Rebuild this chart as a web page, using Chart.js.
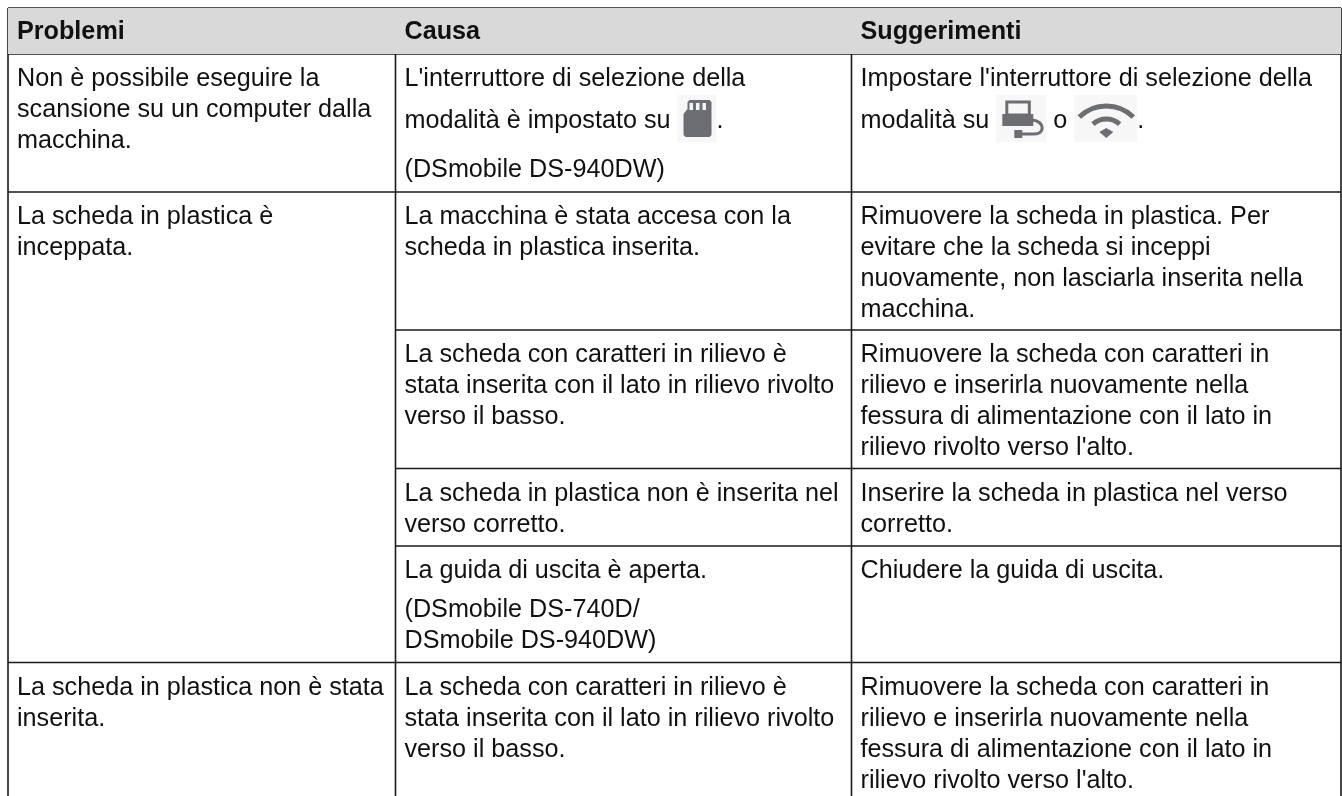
<!DOCTYPE html>
<html lang="it"><head><meta charset="utf-8">
<style>html,body{margin:0;padding:0;background:#fff}canvas{display:block}</style>
<script src="https://cdn.jsdelivr.net/npm/chart.js@4"></script></head>
<body><canvas id="c" width="1342" height="796"></canvas>
<script>
const headers=["Problemi","Causa","Suggerimenti"];
const problems=[
 [["Non è possibile eseguire la","scansione su un computer dalla","macchina."]],
 [["La scheda in plastica è","inceppata."]],
 [],[],[],
 [["La scheda in plastica non è stata","inserita."]]];
const causes=[
 [["L'interruttore di selezione della","modalità è impostato su {sd}."],["(DSmobile DS-940DW)"]],
 [["La macchina è stata accesa con la","scheda in plastica inserita."]],
 [["La scheda con caratteri in rilievo è","stata inserita con il lato in rilievo rivolto","verso il basso."]],
 [["La scheda in plastica non è inserita nel","verso corretto."]],
 [["La guida di uscita è aperta."],["(DSmobile DS-740D/","DSmobile DS-940DW)"]],
 [["La scheda con caratteri in rilievo è","stata inserita con il lato in rilievo rivolto","verso il basso."]]];
const tips=[
 [["Impostare l'interruttore di selezione della","modalità su {pc} o {wifi}."]],
 [["Rimuovere la scheda in plastica. Per","evitare che la scheda si inceppi","nuovamente, non lasciarla inserita nella","macchina."]],
 [["Rimuovere la scheda con caratteri in","rilievo e inserirla nuovamente nella","fessura di alimentazione con il lato in","rilievo rivolto verso l'alto."]],
 [["Inserire la scheda in plastica nel verso","corretto."]],
 [["Chiudere la guida di uscita."]],
 [["Rimuovere la scheda con caratteri in","rilievo e inserirla nuovamente nella","fessura di alimentazione con il lato in","rilievo rivolto verso l'alto."]]];
const columnEdges=[8,395.5,851.5,1341];
const rowEdges=[8,54,192,330,468.5,546,662.5,796];

const LINE='#1a1a1a',TXT='#111',ICON='#6d6e71',ICONBG='#f7f7f7',FONT='"Liberation Sans"';
const SIZE=25.2, LH=31, PGAP=7.5, PADX=9, BASE=32, HEADBASE=31;
const ICONW={sd:39,pc:50,wifi:63};

function seg(x0,y0,x1,y1){return{type:'line',data:[{x:x0,y:y0},{x:x1,y:y1}],borderColor:LINE,borderWidth:1.6,pointRadius:0,fill:false};}
const ds=[];
ds.push({type:'line',data:[{x:columnEdges[0],y:rowEdges[0]},{x:columnEdges[3],y:rowEdges[0]}],borderWidth:0,pointRadius:0,backgroundColor:'#d9d9d9',fill:{value:rowEdges[1]}});
const bottom=rowEdges[rowEdges.length-1];
columnEdges.forEach(x=>ds.push(seg(x,rowEdges[0],x,bottom)));
rowEdges.slice(0,-1).forEach((y,i)=>{
  const merged=i>=3&&i<=5;
  ds.push(seg(merged?columnEdges[1]:columnEdges[0],y,columnEdges[3],y));
});

function drawIcon(ctx,name,x,top){
  const w=ICONW[name],h=47;
  ctx.fillStyle=ICONBG;ctx.fillRect(x,top,w,h);
  ctx.fillStyle=ICON;ctx.strokeStyle=ICON;
  if(name==='sd'){
    const l=x+6,t=top+5,r=x+34,b=top+42;
    ctx.beginPath();ctx.moveTo(l+5,t+1);ctx.lineTo(l+6,t);ctx.lineTo(r-2,t);ctx.lineTo(r,t+2);ctx.lineTo(r,b-2);ctx.lineTo(r-2,b);ctx.lineTo(l+2,b);ctx.lineTo(l,b-2);ctx.lineTo(l,t+14);ctx.lineTo(l+4,t+9);ctx.lineTo(l+4,t+2);ctx.closePath();ctx.fill();
    ctx.fillStyle='#f4f4f4';[6,12.5,19].forEach(d=>ctx.fillRect(l+d,t+3,3.5,7));
  }else if(name==='pc'){
    ctx.lineWidth=3;ctx.strokeRect(x+10.5,top+7,22.5,13);
    ctx.fillRect(x+6,top+19,31,12);
    ctx.beginPath();ctx.moveTo(x+36,top+25);ctx.bezierCurveTo(x+49,top+26,x+49,top+40,x+37,top+39);ctx.lineTo(x+24,top+39);ctx.stroke();
    ctx.fillRect(x+18,top+35,8,8);
  }else{
    const cx=x+32;ctx.lineWidth=5;
    [[49.6,38.6,.247],[44,20,.233]].forEach(([cy,rad,sp])=>{ctx.beginPath();ctx.arc(cx,top+cy,rad,-Math.PI/2-sp*Math.PI,-Math.PI/2+sp*Math.PI);ctx.stroke();});
    ctx.beginPath();ctx.moveTo(cx,top+43);ctx.lineTo(cx+7,top+37);ctx.lineTo(cx,top+33);ctx.lineTo(cx-7,top+37);ctx.closePath();ctx.fill();
  }
}
function drawLine(ctx,text,x,y){
  const parts=text.split(/(\{\w+\})/).filter(Boolean);
  for(const p of parts){
    const m=p.match(/^\{(\w+)\}$/);
    if(m){drawIcon(ctx,m[1],x,y-33);x+=ICONW[m[1]];}
    else{ctx.fillStyle=TXT;ctx.fillText(p,x,y);x+=ctx.measureText(p).width;}
  }
}
function drawCell(ctx,paras,col,row,xs,ys){
  let y=ys.getPixelForValue(rowEdges[row])+BASE;
  const x=xs.getPixelForValue(columnEdges[col])+PADX;
  paras.forEach((lines,pi)=>{
    if(pi>0)y+=LH+PGAP;
    lines.forEach((l,li)=>{
      if(li>0)y+=LH;
      if(l.includes('{'))y+=11;
      drawLine(ctx,l,x,y);
      if(l.includes('{'))y+=10;
    });
  });
}
const tablePlugin={id:'table',afterDatasetsDraw(chart){
  const {ctx,scales:{x:xs,y:ys}}=chart;
  ctx.save();ctx.textBaseline='alphabetic';ctx.textAlign='left';
  ctx.font=`bold ${SIZE}px ${FONT}`;ctx.fillStyle='#111';
  headers.forEach((h,c)=>ctx.fillText(h,xs.getPixelForValue(columnEdges[c])+PADX,ys.getPixelForValue(rowEdges[0])+HEADBASE));
  ctx.font=`${SIZE}px ${FONT}`;
  [problems,causes,tips].forEach((col,c)=>col.forEach((paras,r)=>drawCell(ctx,paras,c,r+1,xs,ys)));
  ctx.restore();
}};
new Chart(document.getElementById('c'),{
  type:'line',
  data:{datasets:ds},
  options:{responsive:false,animation:false,events:[],
    layout:{padding:0},
    plugins:{legend:{display:false},tooltip:{enabled:false},title:{display:false}},
    scales:{
      x:{type:'linear',display:false,min:0,max:1342},
      y:{type:'linear',display:false,min:0,max:796,reverse:true}
    }},
  plugins:[tablePlugin]
});
</script></body></html>
